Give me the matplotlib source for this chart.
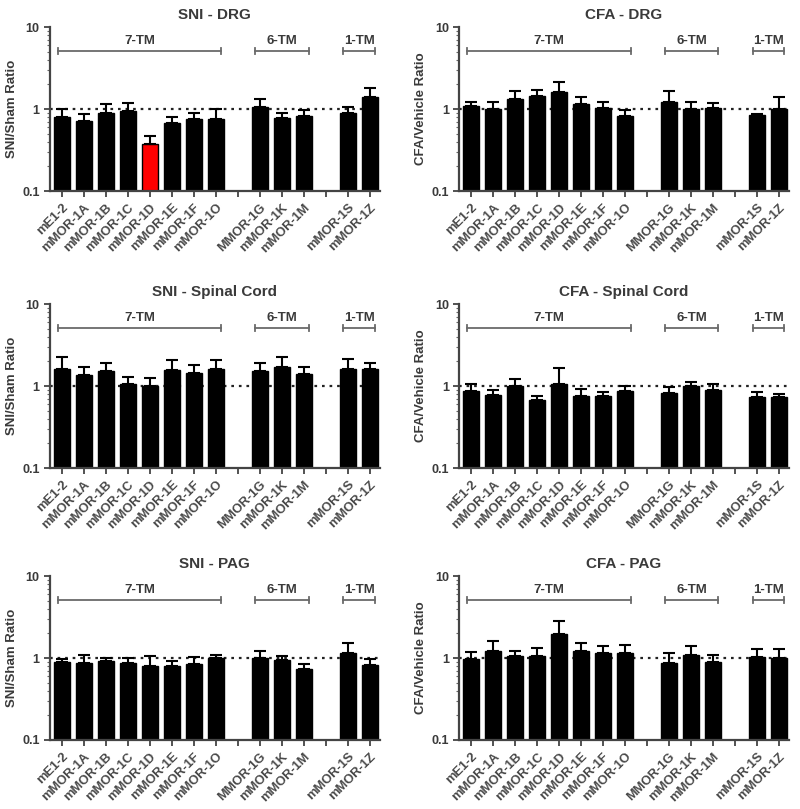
import matplotlib
matplotlib.use("Agg")
import matplotlib.pyplot as plt
import numpy as np

plt.rcParams['font.family'] = ['Liberation Sans', 'DejaVu Sans']

labels_7tm = ["mE1-2", "mMOR-1A", "mMOR-1B", "mMOR-1C", "mMOR-1D", "mMOR-1E", "mMOR-1F", "mMOR-1O"]
labels_6tm = ["MMOR-1G", "mMOR-1K", "mMOR-1M"]
labels_1tm = ["mMOR-1S", "mMOR-1Z"]

# values (means) and upper error bar tops, per panel, in order 7TM + 6TM + 1TM
sni_drg_mean = [0.79, 0.71, 0.885, 0.945, 0.37, 0.67, 0.75, 0.76, 1.06, 0.78, 0.83, 0.885, 1.40]
sni_drg_top = [1.00, 0.86, 1.14, 1.18, 0.47, 0.81, 0.885, 1.00, 1.34, 0.885, 0.97, 1.05, 1.79]
cfa_drg_mean = [1.09, 1.00, 1.31, 1.46, 1.60, 1.16, 1.04, 0.82, 1.22, 1.00, 1.04, 0.845, 1.00]
cfa_drg_top = [1.21, 1.23, 1.65, 1.71, 2.16, 1.39, 1.21, 0.97, 1.65, 1.23, 1.18, 0.88, 1.39]
sni_sc_mean = [1.61, 1.36, 1.53, 1.06, 1.00, 1.57, 1.46, 1.60, 1.51, 1.69, 1.39, 1.60, 1.60]
sni_sc_top = [2.29, 1.69, 1.93, 1.29, 1.26, 2.08, 1.82, 2.10, 1.93, 2.24, 1.69, 2.12, 1.91]
cfa_sc_mean = [0.87, 0.78, 1.00, 0.68, 1.07, 0.76, 0.76, 0.88, 0.82, 1.01, 0.90, 0.74, 0.74]
cfa_sc_top = [1.05, 0.89, 1.22, 0.755, 1.65, 0.92, 0.85, 0.99, 0.98, 1.11, 1.05, 0.85, 0.81]
sni_pag_mean = [0.89, 0.86, 0.92, 0.86, 0.81, 0.79, 0.85, 0.99, 0.99, 0.94, 0.74, 1.15, 0.83]
sni_pag_top = [0.98, 1.09, 1.01, 1.00, 1.06, 0.92, 1.04, 1.09, 1.21, 1.07, 0.85, 1.53, 0.98]
cfa_pag_mean = [0.97, 1.21, 1.05, 1.05, 1.95, 1.22, 1.14, 1.16, 0.87, 1.10, 0.90, 1.03, 1.00]
cfa_pag_top = [1.17, 1.60, 1.23, 1.33, 2.84, 1.54, 1.39, 1.46, 1.16, 1.39, 1.08, 1.30, 1.30]

panels = [
    ("SNI - DRG", "SNI/Sham Ratio", sni_drg_mean, sni_drg_top),
    ("CFA - DRG", "CFA/Vehicle Ratio", cfa_drg_mean, cfa_drg_top),
    ("SNI - Spinal Cord", "SNI/Sham Ratio", sni_sc_mean, sni_sc_top),
    ("CFA - Spinal Cord", "CFA/Vehicle Ratio", cfa_sc_mean, cfa_sc_top),
    ("SNI - PAG", "SNI/Sham Ratio", sni_pag_mean, sni_pag_top),
    ("CFA - PAG", "CFA/Vehicle Ratio", cfa_pag_mean, cfa_pag_top),
]
highlight = {("SNI - DRG", "mMOR-1D"): "#ff0000"}

groups = [("7-TM", labels_7tm), ("6-TM", labels_6tm), ("1-TM", labels_1tm)]

# positions: each group followed by an empty slot
positions = []
group_spans = []
all_labels = []
slot = 0
for gi, (gname, glabels) in enumerate(groups):
    start = slot
    for lab in glabels:
        positions.append(slot)
        all_labels.append(lab)
        slot += 1
    group_spans.append((gname, start, slot - 1))
    if gi < len(groups) - 1:
        slot += 1
n_slots = slot

fig = plt.figure(figsize=(8.0, 8.09), dpi=100)
lefts = [0.0625, 0.574]
bottoms = [0.7639, 0.4215, 0.0853]
w, h = 0.412, 0.2027

txt = "#3a3a3a"
tick_txt = "#484848"
for i, (title, ylab, mean, top) in enumerate(panels):
    r, c = divmod(i, 2)
    ax = fig.add_axes([lefts[c], bottoms[r], w, h])
    ax.set_yscale("log")
    ax.set_ylim(0.1, 10)
    ax.set_xlim(-0.55, n_slots - 1 + 0.45)
    ax.axhline(1.0, color="#222222", ls=(0, (1.2, 2.2)), lw=1.6, zorder=1)
    colors = [highlight.get((title, lab), "black") for lab in all_labels]
    ax.bar(positions, mean, width=0.72, color=colors, edgecolor="black", lw=1.0, zorder=2)
    err = np.array(top) - np.array(mean)
    ax.errorbar(positions, mean, yerr=[np.zeros_like(err), err], fmt="none",
                ecolor="black", elinewidth=1.5, capsize=4, capthick=1.5, zorder=3)
    # group brackets
    for gname, s, e in group_spans:
        x0, x1 = s - 0.2, e + 0.25
        ax.plot([x0, x1], [5.1, 5.1], color="#6a6a6a", lw=1.3, zorder=3)
        for xx in (x0, x1):
            ax.plot([xx, xx], [4.75, 5.5], color="#6a6a6a", lw=1.3, zorder=3)
        ax.text((x0 + x1) / 2, 5.75, gname, ha="center", va="bottom",
                fontsize=9.5, fontweight="bold", color=txt)
    ax.set_xticks(range(n_slots))
    ticklabels = [""] * n_slots
    for p, lab in zip(positions, all_labels):
        ticklabels[p] = lab
    ax.set_xticklabels(ticklabels, rotation=45, ha="right", rotation_mode="anchor",
                       fontsize=9.3, fontweight="bold", color=tick_txt)
    ax.set_yticks([0.1, 1, 10])
    ax.set_yticklabels(["0.1", "1", "10"], fontsize=9, fontweight="bold", color=txt)
    ax.tick_params(axis="both", which="major", direction="out", length=4, width=1.3, color="#444444")
    ax.tick_params(axis="y", which="minor", direction="out", length=2.5, width=0.8, color="#666666")
    for sp in ("top", "right"):
        ax.spines[sp].set_visible(False)
    for sp in ("left", "bottom"):
        ax.spines[sp].set_linewidth(1.6)
        ax.spines[sp].set_color("#444444")
    ax.set_title(title, fontsize=11, fontweight="bold", color=txt, pad=6)
    ax.set_ylabel(ylab, fontsize=9.5, fontweight="bold", color=txt, labelpad=3)

fig.savefig("out.png", dpi=100)
